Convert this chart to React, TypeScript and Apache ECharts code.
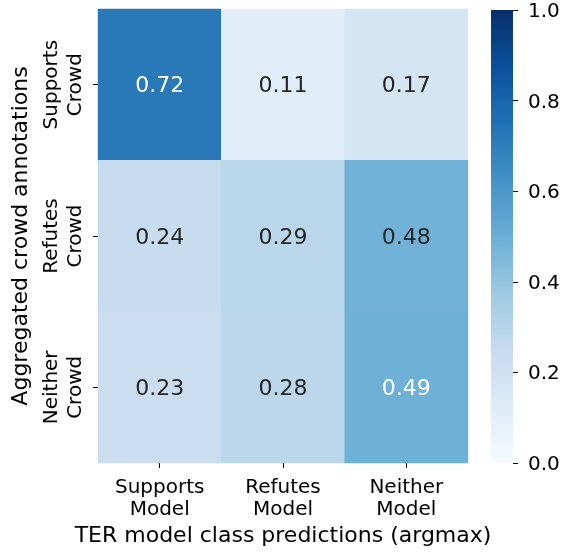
import React, { useEffect, useRef } from "react";
import * as echarts from "echarts";

const xCategories = ["Supports\nModel", "Refutes\nModel", "Neither\nModel"];
const yCategories = ["Supports\nCrowd", "Refutes\nCrowd", "Neither\nCrowd"];
const rowSupports = [0.72, 0.11, 0.17];
const rowRefutes = [0.24, 0.29, 0.48];
const rowNeither = [0.23, 0.28, 0.49];
const colorbarTicks = [0, 0.2, 0.4, 0.6, 0.8, 1.0];
const bluesStops = ["#f7fbff", "#deebf7", "#c6dbef", "#9ecae1", "#6baed6", "#4292c6", "#2171b5", "#08519c", "#08306b"];

const xTitle = "TER model class predictions (argmax)";
const yTitle = "Aggregated crowd annotations";

const FONT = "DejaVu Sans";

export default function App() {
  const ref = useRef<HTMLDivElement>(null);
  useEffect(() => {
    if (!ref.current) return;
    const chart = echarts.init(ref.current, undefined, { renderer: "svg" });
    const rows = [rowSupports, rowRefutes, rowNeither];
    const data: any[] = [];
    rows.forEach((row, yi) => {
      row.forEach((v, xi) => {
        data.push({
          value: [xi, yi, v],
          label: { color: v >= 0.485 ? "#ffffff" : "#262626" },
        });
      });
    });
    const gradient = new echarts.graphic.LinearGradient(
      0, 1, 0, 0,
      bluesStops.map((c, i) => ({ offset: i / (bluesStops.length - 1), color: c }))
    );
    chart.setOption({
      animation: false,
      textStyle: { fontFamily: FONT },
      grid: [
        { left: 98, right: 102, top: 9, bottom: 91 },
        { left: 491, width: 22, top: 10, height: 453 },
      ],
      xAxis: [
        {
          type: "category",
          gridIndex: 0,
          data: xCategories,
          axisLine: { show: false },
          axisTick: { show: true, alignWithLabel: true, length: 5, lineStyle: { color: "#000", width: 1 } },
          axisLabel: { fontSize: 20, color: "#000", fontFamily: FONT, lineHeight: 22, margin: 12 },
          splitLine: { show: false },
          name: xTitle,
          nameLocation: "middle",
          nameGap: 56,
          nameTextStyle: { fontSize: 22, color: "#000", fontFamily: FONT },
        },
        {
          type: "category",
          gridIndex: 1,
          data: [""],
          show: false,
        },
      ],
      yAxis: [
        {
          type: "category",
          gridIndex: 0,
          inverse: true,
          data: yCategories,
          axisLine: { show: false },
          axisTick: { show: true, alignWithLabel: true, length: 5, lineStyle: { color: "#000", width: 1 } },
          axisLabel: { fontSize: 20, color: "#000", fontFamily: FONT, lineHeight: 24, rotate: 90, margin: 12 },
          splitLine: { show: false },
          name: yTitle,
          nameLocation: "middle",
          nameGap: 58,
          nameRotate: 90,
          nameTextStyle: { fontSize: 22, color: "#000", fontFamily: FONT },
        },
        {
          type: "value",
          gridIndex: 1,
          position: "right",
          min: colorbarTicks[0],
          max: colorbarTicks[colorbarTicks.length - 1],
          interval: 0.2,
          axisLine: { show: false },
          axisTick: { show: true, length: 5, lineStyle: { color: "#000", width: 1 } },
          axisLabel: {
            fontSize: 20,
            lineHeight: 14,
            color: "#000",
            fontFamily: FONT,
            margin: 15,
            formatter: (v: number) => v.toFixed(1),
          },
          splitLine: { show: false },
        },
      ],
      visualMap: {
        show: false,
        min: 0,
        max: 1,
        seriesIndex: 0,
        dimension: 2,
        inRange: { color: bluesStops },
      },
      series: [
        {
          type: "heatmap",
          xAxisIndex: 0,
          yAxisIndex: 0,
          data,
          label: {
            show: true,
            fontSize: 22,
            fontFamily: FONT,
            formatter: (p: any) => p.value[2].toFixed(2),
          },
          itemStyle: { borderWidth: 0 },
          emphasis: { disabled: true },
        },
        {
          type: "bar",
          xAxisIndex: 1,
          yAxisIndex: 1,
          data: [colorbarTicks[colorbarTicks.length - 1]],
          barWidth: "100%",
          itemStyle: { color: gradient },
          silent: true,
        },
      ],
    });
    return () => chart.dispose();
  }, []);
  return <div ref={ref} style={{ position: "fixed", left: 0, top: 0, width: 570, height: 554 }} />;
}
